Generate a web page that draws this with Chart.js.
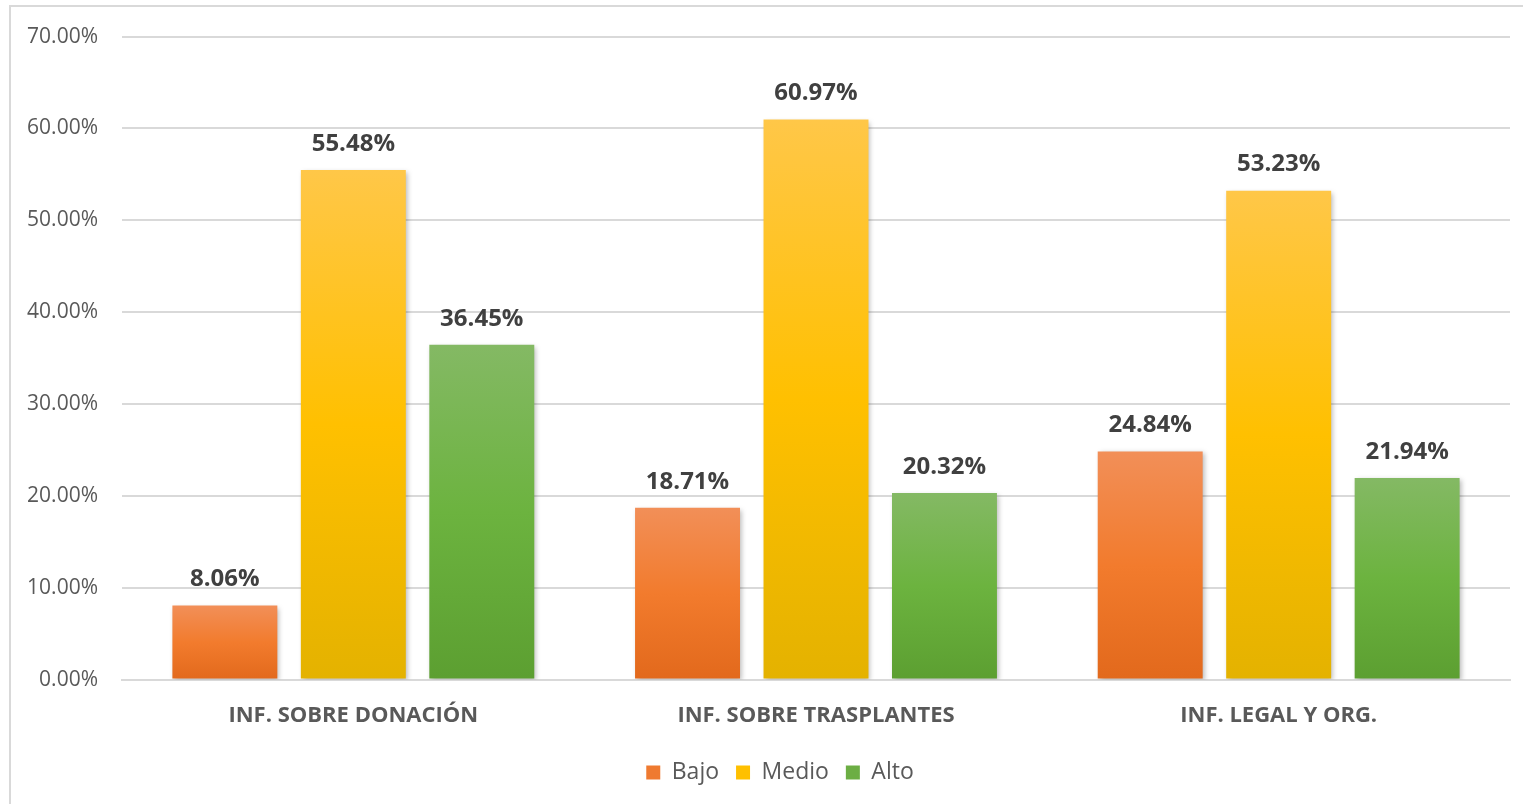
<!DOCTYPE html>
<html lang="es">
<head>
    <meta charset="UTF-8">
    <title>Nivel de información</title>
    <script src="https://cdn.jsdelivr.net/npm/chart.js"></script>
    <style>
        body {
            margin: 0;
            padding: 0;
            background: #ffffff;
            overflow: hidden;
            font-family: "Open Sans", sans-serif;
        }
        .frame {
            position: absolute;
            left: 9px;
            top: 5px;
            width: 1600px;
            height: 900px;
            border: 2px solid #d9d9d9;
        }
        #chart {
            position: absolute;
            left: 0;
            top: 0;
        }
    </style>
</head>
<body>
    <div class="frame"></div>
    <canvas id="chart" width="1523" height="804"></canvas>
    <script>
        const categories = ['INF. SOBRE DONACIÓN', 'INF. SOBRE TRASPLANTES', 'INF. LEGAL Y ORG.'];
        const bajo = [8.06, 18.71, 24.84];
        const medio = [55.48, 60.97, 53.23];
        const alto = [36.45, 20.32, 21.94];
        const yTicks = [0, 10, 20, 30, 40, 50, 60, 70];

        // top / middle / bottom colours of each bar's vertical gradient
        const shades = {
            Bajo: ['#f28f58', '#f27b2d', '#e2691c'],
            Medio: ['#ffc748', '#ffc000', '#e4b200'],
            Alto: ['#84b964', '#6cb33f', '#5c9f31']
        };
        const solid = { Bajo: '#ef7a30', Medio: '#ffc000', Alto: '#6cae44' };

        function barGradient(ctx) {
            const chart = ctx.chart;
            const name = ctx.dataset.label;
            if (!chart.chartArea || ctx.raw === undefined) return solid[name];
            const y = chart.scales.y;
            const top = y.getPixelForValue(ctx.raw);
            const bottom = y.getPixelForValue(0);
            const g = chart.ctx.createLinearGradient(0, top, 0, bottom);
            const s = shades[name];
            g.addColorStop(0, s[0]);
            g.addColorStop(0.5, s[1]);
            g.addColorStop(1, s[2]);
            return g;
        }

        const barShadow = {
            id: 'barShadow',
            beforeDatasetsDraw(chart) {
                const c = chart.ctx;
                c.save();
                c.shadowColor = 'rgba(0,0,0,0.28)';
                c.shadowBlur = 5;
                c.shadowOffsetX = 2;
                c.shadowOffsetY = 2;
            },
            afterDatasetsDraw(chart) {
                chart.ctx.restore();
            }
        };

        const valueLabels = {
            id: 'valueLabels',
            afterDatasetsDraw(chart) {
                const c = chart.ctx;
                c.save();
                c.font = 'bold 24px "Open Sans"';
                c.fillStyle = '#404040';
                c.textAlign = 'center';
                c.textBaseline = 'middle';
                chart.data.datasets.forEach((ds, i) => {
                    chart.getDatasetMeta(i).data.forEach((bar, j) => {
                        c.fillText(ds.data[j].toFixed(2) + '%', bar.x, bar.y - 26);
                    });
                });
                c.restore();
            }
        };

        // nudge the legend a bit right of the canvas centre
        const legendShift = {
            id: 'legendShift',
            afterLayout(chart) {
                chart.legend.left += 25;
                chart.legend.right += 25;
            }
        };

        const mkSet = (label, data) => ({
            label: label,
            data: data,
            backgroundColor: barGradient,
            borderWidth: 0,
            categoryPercentage: 0.833,
            barPercentage: 0.817
        });

        new Chart(document.getElementById('chart'), {
            type: 'bar',
            data: {
                labels: categories,
                datasets: [mkSet('Bajo', bajo), mkSet('Medio', medio), mkSet('Alto', alto)]
            },
            options: {
                responsive: false,
                animation: false,
                layout: { padding: { top: 24, right: 13, bottom: 10, left: 0 } },
                plugins: {
                    tooltip: { enabled: false },
                    legend: {
                        position: 'bottom',
                        labels: {
                            boxWidth: 14,
                            boxHeight: 14,
                            padding: 17,
                            color: '#595959',
                            font: { family: 'Open Sans', size: 23 },
                            generateLabels(chart) {
                                return chart.data.datasets.map((ds, i) => ({
                                    text: ds.label,
                                    fillStyle: solid[ds.label],
                                    strokeStyle: solid[ds.label],
                                    lineWidth: 0,
                                    fontColor: '#595959',
                                    datasetIndex: i
                                }));
                            }
                        }
                    }
                },
                scales: {
                    x: {
                        grid: { display: false },
                        border: { display: true, color: '#d9d9d9', width: 2 },
                        ticks: {
                            color: '#595959',
                            padding: 15,
                            font: { family: 'Open Sans', size: 22, weight: 'bold' }
                        }
                    },
                    y: {
                        min: 0,
                        max: 70,
                        afterFit(scale) { scale.width = 122; },
                        afterBuildTicks(scale) { scale.ticks = yTicks.map(v => ({ value: v })); },
                        border: { display: false },
                        grid: { color: '#d9d9d9', lineWidth: 2, drawTicks: false },
                        ticks: {
                            padding: 24,
                            color: '#595959',
                            font: { family: 'Open Sans', size: 21 },
                            callback: v => v.toFixed(2) + '%'
                        }
                    }
                }
            },
            plugins: [barShadow, valueLabels, legendShift]
        });
    </script>
</body>
</html>
